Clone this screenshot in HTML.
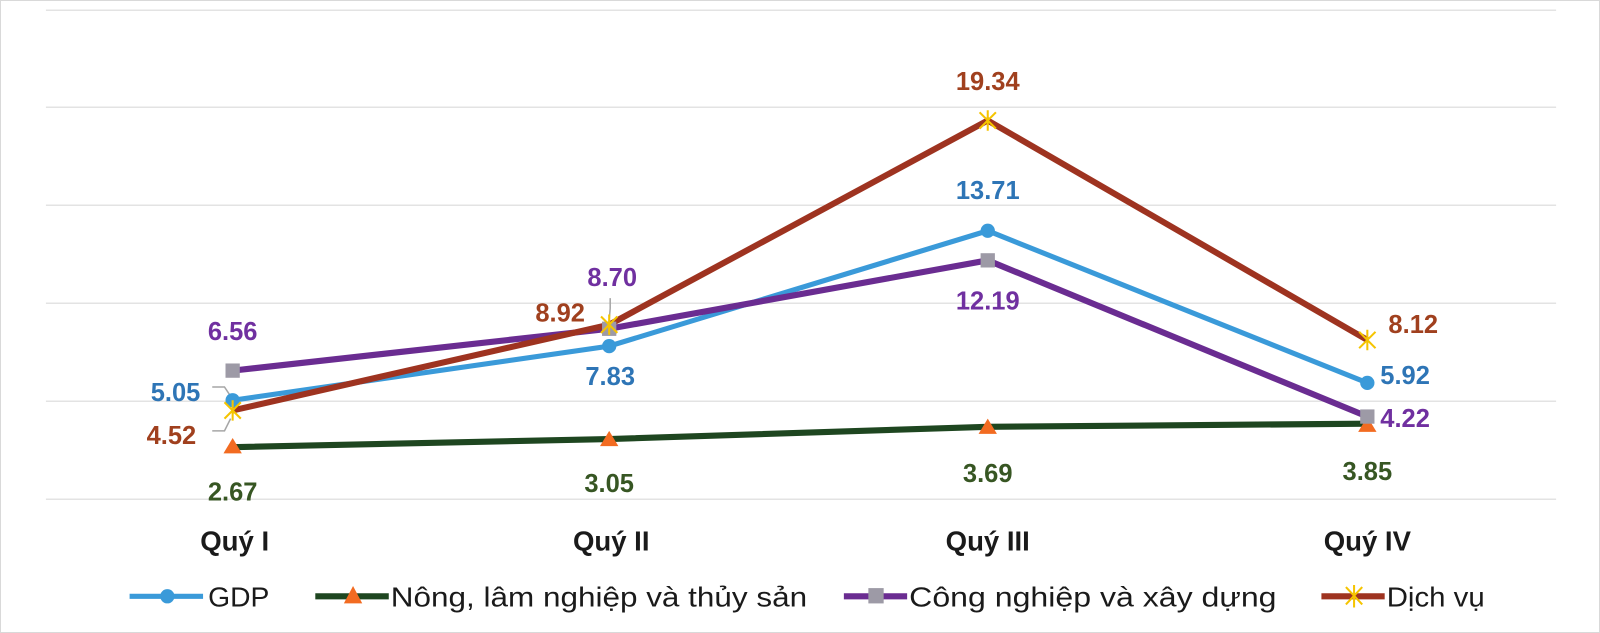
<!DOCTYPE html>
<html><head><meta charset="utf-8"><style>
html,body{margin:0;padding:0;background:#fff;}
svg{display:block;}
text{font-family:"Liberation Sans",sans-serif;}
.l{font-size:25px;font-weight:bold;text-anchor:middle;}
.c{font-size:27px;font-weight:bold;text-anchor:middle;fill:#1a1a1a;}
.g{font-size:27px;fill:#1a1a1a;}
</style></head><body>
<svg width="1600" height="633" viewBox="0 0 1600 633" xmlns="http://www.w3.org/2000/svg">
<rect x="0.5" y="0.5" width="1599" height="632" fill="#fff" stroke="#d9d9d9"/>
<g transform="scale(1.0204,1.021)">
<g stroke="#e3e3e3" stroke-width="1.5">
<line x1="45" y1="10" x2="1525" y2="10"/>
<line x1="45" y1="105" x2="1525" y2="105"/>
<line x1="45" y1="201" x2="1525" y2="201"/>
<line x1="45" y1="297" x2="1525" y2="297"/>
<line x1="45" y1="393" x2="1525" y2="393"/>
<line x1="45" y1="489" x2="1525" y2="489"/>
</g>
<polyline points="208,379 220,379 226,388" fill="none" stroke="#a6a6a6" stroke-width="1.5"/>
<polyline points="208,422 220,422 226,410" fill="none" stroke="#a6a6a6" stroke-width="1.5"/>
<polyline points="598,292 598,302 597,314" fill="none" stroke="#a6a6a6" stroke-width="1.5"/>
<polyline points="228,438 597,430 968,418 1340,415" fill="none" stroke="#1e4620" stroke-width="6"/>
<polyline points="228,392 597,339 968,226 1340,375" fill="none" stroke="#3a9ad9" stroke-width="5"/>
<polyline points="228,363 597,322 968,255 1340,408" fill="none" stroke="#6a2c91" stroke-width="6"/>
<polyline points="228,402 597,318 968,118 1340,333" fill="none" stroke="#9e3320" stroke-width="6"/>
<g fill="#f26b21">
<polygon points="228,429 237,444 219,444"/><polygon points="597,422 606,437 588,437"/>
<polygon points="968,410 977,425 959,425"/><polygon points="1340,408 1349,423 1331,423"/>
</g>
<g fill="#3a9ad9"><circle cx="228" cy="392" r="7"/><circle cx="597" cy="339" r="7"/><circle cx="968" cy="226" r="7"/><circle cx="1340" cy="375" r="7"/></g>
<g fill="#9d9aa6"><rect x="221" y="356" width="14" height="14"/><rect x="590" y="315" width="14" height="14"/><rect x="961" y="248" width="14" height="14"/><rect x="1333" y="401" width="14" height="14"/></g>
<g stroke="#f5c400" stroke-width="2">
<path d="M220,394l16,16M236,394l-16,16M228,392v20"/>
<path d="M589,310l16,16M605,310l-16,16M597,308v20"/>
<path d="M960,110l16,16M976,110l-16,16M968,108v20"/>
<path d="M1332,325l16,16M1348,325l-16,16M1340,323v20"/>
</g>
<g class="l">
<text x="228" y="333" fill="#7030a0">6.56</text>
<text x="172" y="393" fill="#2e75b6">5.05</text>
<text x="168" y="435" fill="#a0401e">4.52</text>
<text x="228" y="490" fill="#375623">2.67</text>
<text x="600" y="280" fill="#7030a0">8.70</text>
<text x="549" y="315" fill="#a0401e">8.92</text>
<text x="598" y="377" fill="#2e75b6">7.83</text>
<text x="597" y="482" fill="#375623">3.05</text>
<text x="968" y="88" fill="#a0401e">19.34</text>
<text x="968" y="195" fill="#2e75b6">13.71</text>
<text x="968" y="303" fill="#7030a0">12.19</text>
<text x="968" y="472" fill="#375623">3.69</text>
<text x="1385" y="326" fill="#a0401e">8.12</text>
<text x="1377" y="376" fill="#2e75b6">5.92</text>
<text x="1377" y="418" fill="#7030a0">4.22</text>
<text x="1340" y="470" fill="#375623">3.85</text>
</g>
<g class="c">
<text x="230" y="539">Quý I</text>
<text x="599" y="539">Quý II</text>
<text x="968" y="539">Quý III</text>
<text x="1340" y="539">Quý IV</text>
</g>
<line x1="127" y1="584" x2="199" y2="584" stroke="#3a9ad9" stroke-width="5"/>
<circle cx="164" cy="584" r="7" fill="#3a9ad9"/>
<text class="g" x="204" y="594" textLength="60" lengthAdjust="spacingAndGlyphs">GDP</text>
<line x1="309" y1="584" x2="381" y2="584" stroke="#1e4620" stroke-width="6"/>
<polygon points="346,574 355,591 337,591" fill="#f26b21"/>
<text class="g" x="383" y="594" textLength="408" lengthAdjust="spacingAndGlyphs">Nông, lâm nghiệp và thủy sản</text>
<line x1="827" y1="584" x2="889" y2="584" stroke="#6a2c91" stroke-width="6"/>
<rect x="851" y="576" width="15" height="15" fill="#9d9aa6"/>
<text class="g" x="891" y="594" textLength="360" lengthAdjust="spacingAndGlyphs">Công nghiệp và xây  dựng</text>
<line x1="1295" y1="584" x2="1357" y2="584" stroke="#9e3320" stroke-width="6"/>
<path d="M1319,575l16,17M1335,575l-16,17M1327,573v22" stroke="#f5c400" stroke-width="2"/>
<text class="g" x="1359" y="594" textLength="96" lengthAdjust="spacingAndGlyphs">Dịch vụ</text>
</g>
</svg>
</body></html>
